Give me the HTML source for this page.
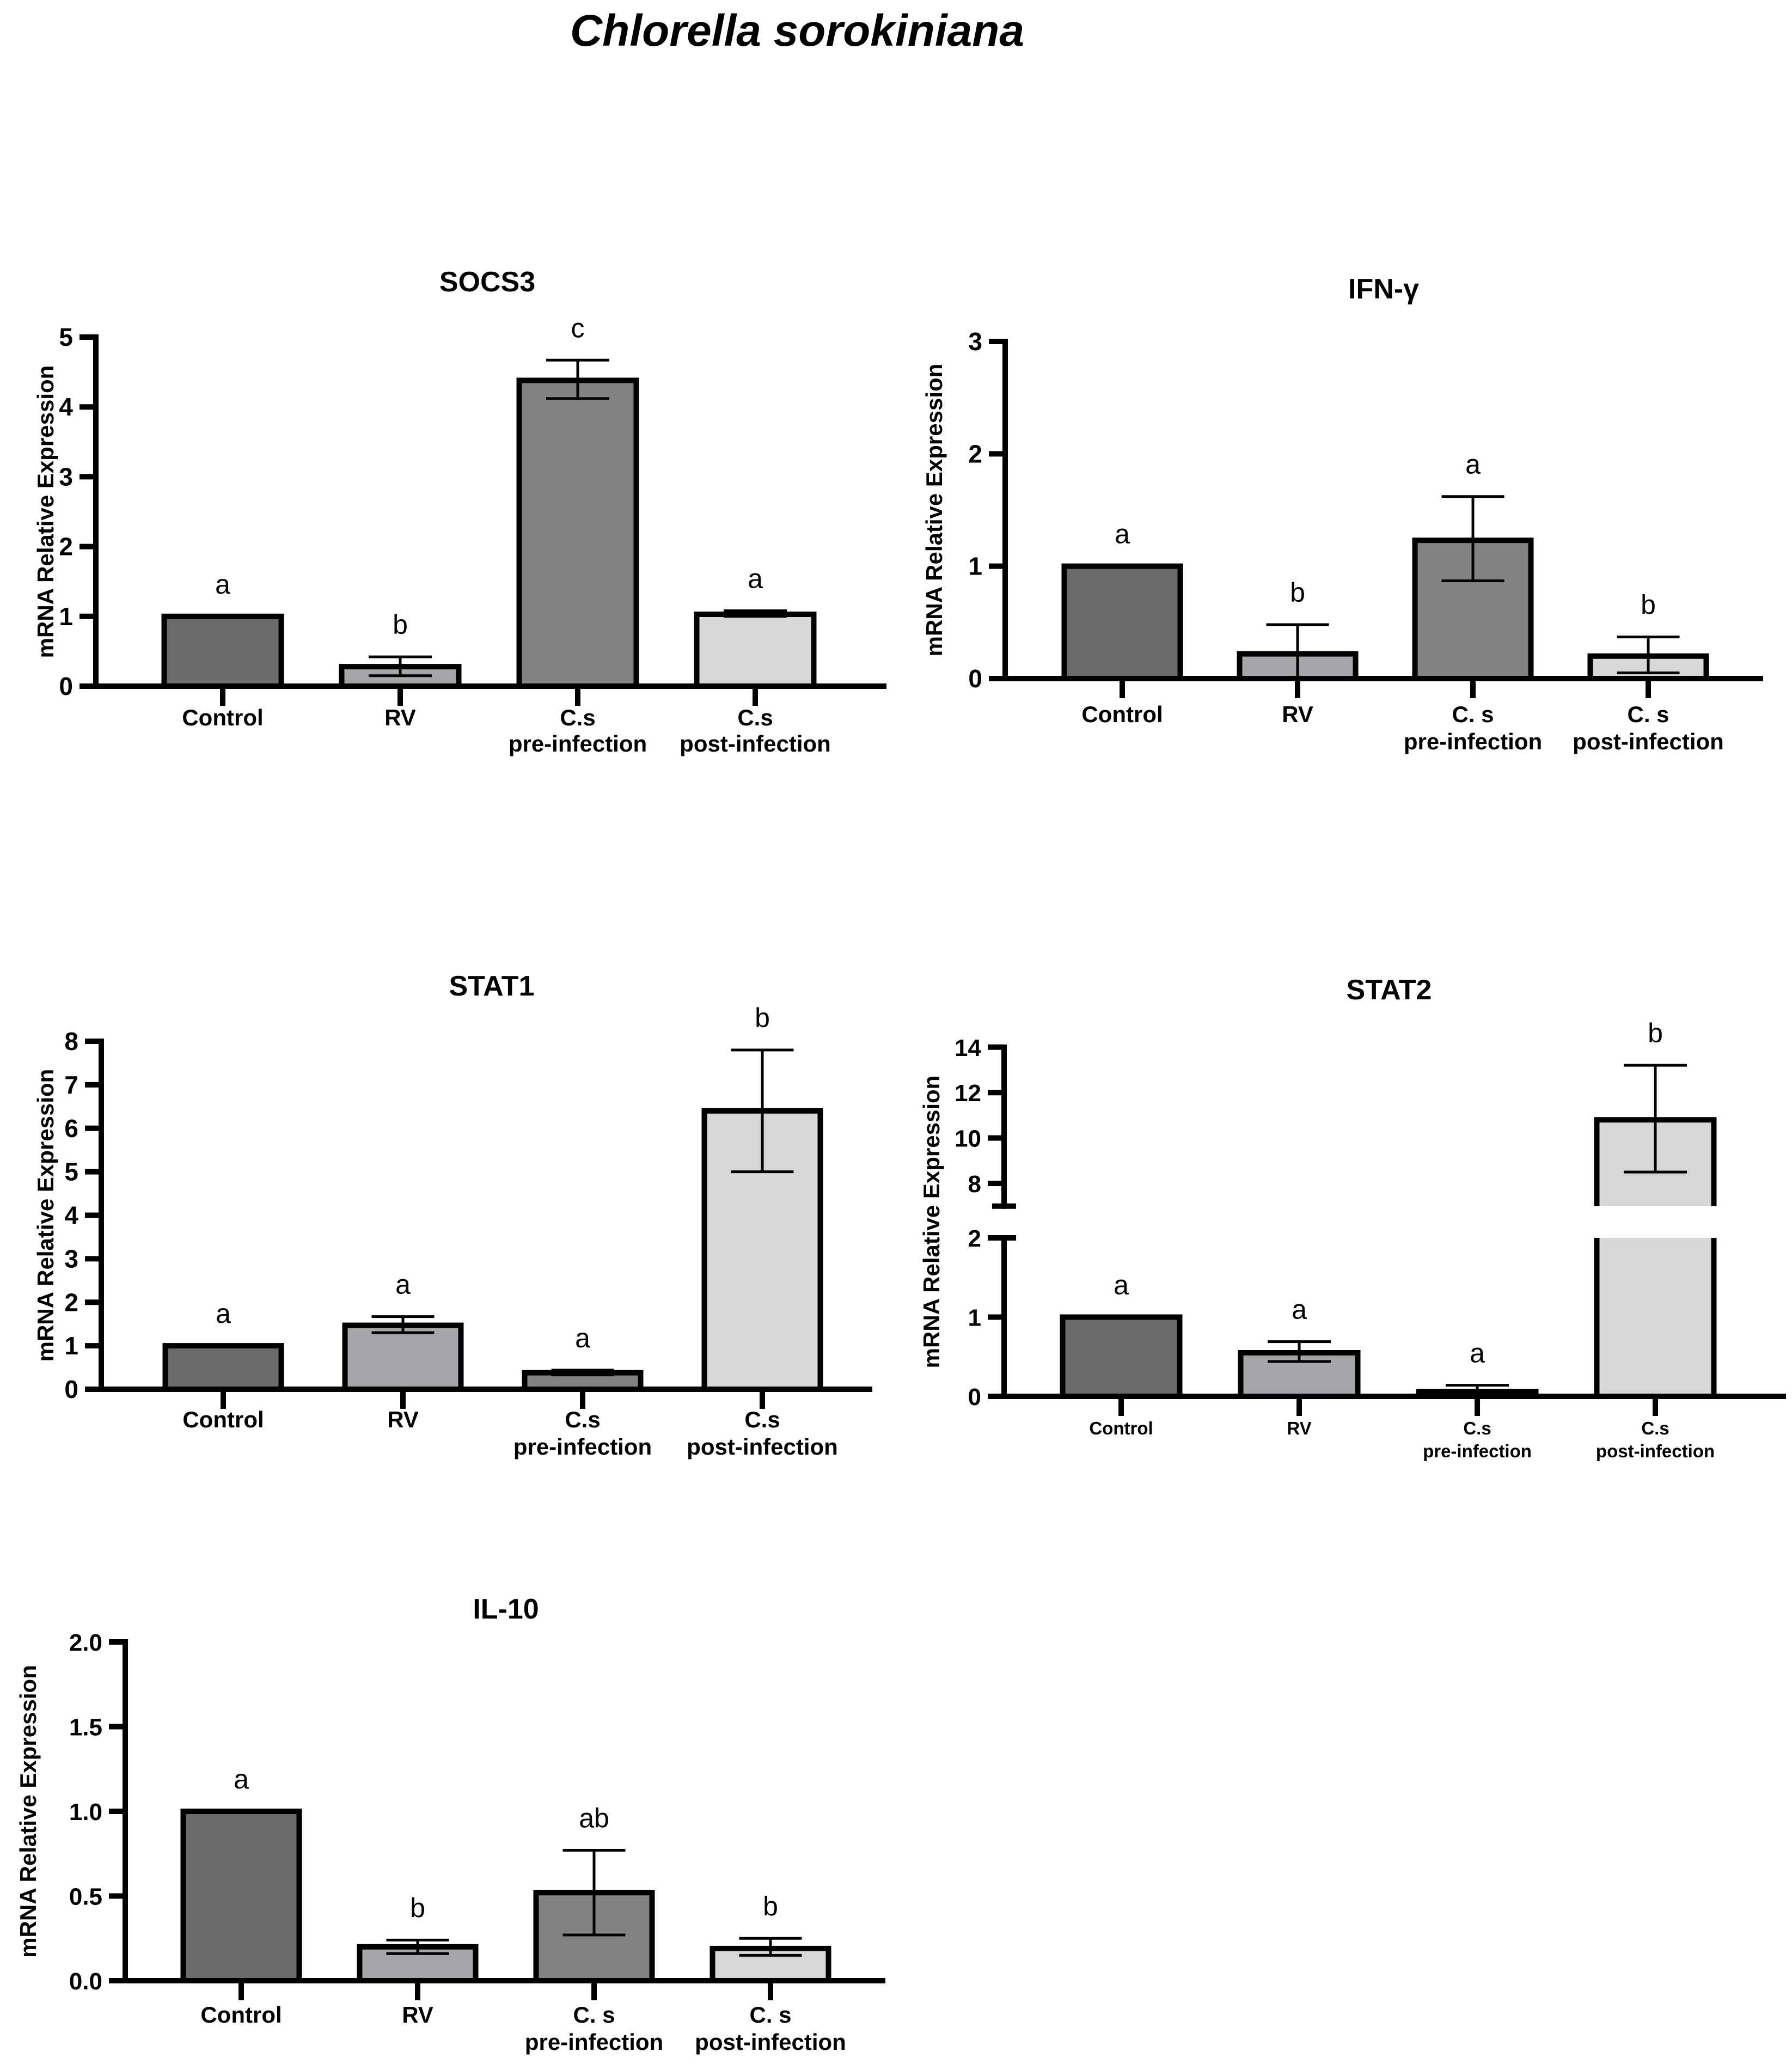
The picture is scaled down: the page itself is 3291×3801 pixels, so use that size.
<!DOCTYPE html>
<html><head><meta charset="utf-8"><style>
html,body{margin:0;padding:0;background:#fff}
svg{display:block}
text{font-family:"Liberation Sans",Arial,sans-serif}
</style></head><body>
<svg id="fig" xmlns="http://www.w3.org/2000/svg" width="3291" height="3801" viewBox="0 0 3291 3801">
<rect width="3291" height="3801" fill="#fff"/>
<text x="1464" y="84" text-anchor="middle" font-size="82" font-weight="bold" font-style="italic">Chlorella sorokiniana</text>
</svg>
<script>
// ---- data ----
const socs3Cats = ["Control","RV","C.s|pre-infection","C.s|post-infection"];
const socs3Values = [1, 0.28, 4.38, 1.03];
const socs3Hi = [1, 0.42, 4.67, 1.08];
const socs3Lo = [1, 0.15, 4.12, 1.0];
const socs3Letters = ["a","b","c","a"];
const socs3Ticks = [0,1,2,3,4,5];
const socs3TickLabels = ["0","1","2","3","4","5"];

const ifnCats = ["Control","RV","C. s|pre-infection","C. s|post-infection"];
const ifnValues = [1, 0.22, 1.23, 0.2];
const ifnHi = [1, 0.48, 1.62, 0.37];
const ifnLo = [1, 0, 0.87, 0.05];
const ifnLetters = ["a","b","a","b"];
const ifnTicks = [0,1,2,3];
const ifnTickLabels = ["0","1","2","3"];

const stat1Cats = ["Control","RV","C.s|pre-infection","C.s|post-infection"];
const stat1Values = [1, 1.47, 0.38, 6.4];
const stat1Hi = [1, 1.67, 0.44, 7.8];
const stat1Lo = [1, 1.3, 0.33, 5.0];
const stat1Letters = ["a","a","a","b"];
const stat1Ticks = [0,1,2,3,4,5,6,7,8];
const stat1TickLabels = ["0","1","2","3","4","5","6","7","8"];

const stat2Cats = ["Control","RV","C.s|pre-infection","C.s|post-infection"];
const stat2Values = [1, 0.55, 0.06, 10.8];
const stat2Hi = [1, 0.69, 0.14, 13.2];
const stat2Lo = [1, 0.44, 0.02, 8.5];
const stat2Letters = ["a","a","a","b"];
const stat2Ticks = [0,1,2,8,10,12,14];
const stat2TickLabels = ["0","1","2","8","10","12","14"];

const il10Cats = ["Control","RV","C. s|pre-infection","C. s|post-infection"];
const il10Values = [1, 0.2, 0.52, 0.19];
const il10Hi = [1, 0.24, 0.77, 0.25];
const il10Lo = [1, 0.16, 0.27, 0.15];
const il10Letters = ["a","b","ab","b"];
const il10Ticks = [0,0.5,1,1.5,2];
const il10TickLabels = ["0.0","0.5","1.0","1.5","2.0"];

const barColors = ["#6b6b6b","#a6a5a9","#828282","#d7d7d7"];

// ---- rendering ----
const NS = "http://www.w3.org/2000/svg";
const svg = document.getElementById("fig");
function mk(tag, attrs, parent){
  const e = document.createElementNS(NS, tag);
  for (const k in attrs) e.setAttribute(k, attrs[k]);
  (parent||svg).appendChild(e);
  return e;
}

function drawChart(L, cats, values, hi, lo, letters, ticks, tickLabels, title, name){
  const g = mk("g", {});
  
  
  const y = L.y;
  const xc = i => L.x0 + L.pad + i * L.step;
  const t = mk("text", {x:L.titleX, y:L.titleY, "text-anchor":"middle", "font-size":52, "font-weight":"bold"}, g);
  t.textContent = title;
  
  
  const yt = mk("text", {transform:`translate(${L.ytx},${(L.ytop+L.yzero)/2}) rotate(-90)`, "text-anchor":"middle", "font-size":42, "font-weight":"bold"}, g);
  yt.textContent = "mRNA Relative Expression";
  
  
  values.forEach((v, i) => {
    const cx = xc(i), w = L.bw;
    if (L.broken && v > L.brkLo) {
      const r1 = mk("rect", {x:cx-w/2, y:y(L.brkLo), width:w, height:y(0)-y(L.brkLo), fill:barColors[i]}, g);
      
      
      mk("path", {d:`M${cx-w/2},${y(0)} V${y(L.brkLo)} M${cx+w/2},${y(L.brkLo)} V${y(0)}`, fill:"none", stroke:"#000","stroke-width":10}, g);
      const r2 = mk("rect", {x:cx-w/2, y:y(v), width:w, height:y(L.brkHi)-y(v), fill:barColors[i]}, g);
      
      
      mk("path", {d:`M${cx-w/2},${y(L.brkHi)} V${y(v)} H${cx+w/2} V${y(L.brkHi)}`, fill:"none", stroke:"#000","stroke-width":10}, g);
    } else {
      const r = mk("rect", {x:cx-w/2, y:y(v), width:w, height:y(0)-y(v), fill:barColors[i], stroke:"#000","stroke-width":10}, g);
      
      
    }
    if (hi[i] !== v || lo[i] !== v) {
      const cw = L.bw * 0.27;
      const eb = mk("path", {d:`M${cx},${y(lo[i])} V${y(hi[i])} M${cx-cw},${y(hi[i])} H${cx+cw} M${cx-cw},${y(lo[i])} H${cx+cw}`, stroke:"#000","stroke-width":5, fill:"none"}, g);
      
      
    }
    const top = Math.min(y(v), y(hi[i]));
    const lt = mk("text", {x:cx, y:top - 42, "text-anchor":"middle", "font-size":50}, g);
    lt.textContent = letters[i];
    
    
    mk("line", {x1:cx, x2:cx, y1:L.yzero, y2:L.yzero+36, stroke:"#000","stroke-width":10}, g);
    const parts = cats[i].split("|");
    parts.forEach((p, k) => {
      const xl = mk("text", {x:cx, y:L.yzero + L.lab1 + k*L.labGap, "text-anchor":"middle", "font-size":L.labFs, "font-weight":"bold"}, g);
      xl.textContent = p;
      
      
    });
  });
  if (L.broken) {
    mk("line", {x1:L.x0, x2:L.x0, y1:L.yzero+5, y2:y(2)-5, stroke:"#000","stroke-width":10}, g);
    mk("line", {x1:L.x0, x2:L.x0, y1:y(L.brkHi)+5, y2:L.ytop-5, stroke:"#000","stroke-width":10}, g);
    mk("line", {x1:L.x0-22, x2:L.x0+22, y1:y(2), y2:y(2), stroke:"#000","stroke-width":10}, g);
    mk("line", {x1:L.x0-22, x2:L.x0+22, y1:y(L.brkHi), y2:y(L.brkHi), stroke:"#000","stroke-width":10}, g);
  } else {
    mk("line", {x1:L.x0, x2:L.x0, y1:L.yzero+5, y2:L.ytop-5, stroke:"#000","stroke-width":10}, g);
  }
  const xa = mk("line", {x1:L.x0-30, x2:L.x1, y1:L.yzero, y2:L.yzero, stroke:"#000","stroke-width":10}, g);
  
  
  ticks.forEach((tv, k) => {
    mk("line", {x1:L.x0-30, x2:L.x0, y1:y(tv), y2:y(tv), stroke:"#000","stroke-width":10}, g);
    const tl = mk("text", {x:L.x0-42, y:y(tv)+16, "text-anchor":"end", "font-size":L.tickFs, "font-weight":"bold"}, g);
    tl.textContent = tickLabels[k];
    
    
  });
}

function lin(yzero, ytop, vmax){ return v => yzero - (yzero - ytop) * v / vmax; }

drawChart({x0:176, x1:1628, yzero:1260, ytop:619, y:lin(1260,619,5), pad:233, step:326, bw:215,
  titleX:895, titleY:535, ytx:98, lab1:72, labGap:48, labFs:42, tickFs:46},
  socs3Cats, socs3Values, socs3Hi, socs3Lo, socs3Letters, socs3Ticks, socs3TickLabels, "SOCS3", "socs3");

drawChart({x0:1846, x1:3238, yzero:1246, ytop:627, y:lin(1246,627,3), pad:215, step:322, bw:213,
  titleX:2541, titleY:548, ytx:1730, lab1:80, labGap:50, labFs:42, tickFs:46},
  ifnCats, ifnValues, ifnHi, ifnLo, ifnLetters, ifnTicks, ifnTickLabels, "IFN-γ", "ifn-gamma");

drawChart({x0:186, x1:1602, yzero:2551, ytop:1912, y:lin(2551,1912,8), pad:224, step:330, bw:213,
  titleX:903, titleY:1828, ytx:98, lab1:70, labGap:50, labFs:42, tickFs:46},
  stat1Cats, stat1Values, stat1Hi, stat1Lo, stat1Letters, stat1Ticks, stat1TickLabels, "STAT1", "stat1");

function yStat2(v){
  if (v <= 2) return 2564 - 145.5 * v;
  return 2173 - (v - 8) * 41.7;
}
drawChart({x0:1844, x1:3280, yzero:2564, ytop:1923, y:yStat2, pad:215, step:327, bw:215, broken:true, brkLo:2, brkHi:7,
  titleX:2551, titleY:1835, ytx:1725, lab1:70, labGap:42, labFs:33, tickFs:44},
  stat2Cats, stat2Values, stat2Hi, stat2Lo, stat2Letters, stat2Ticks, stat2TickLabels, "STAT2", "stat2");

drawChart({x0:230, x1:1626, yzero:3637, ytop:3015, y:lin(3637,3015,2), pad:213, step:324, bw:213,
  titleX:929, titleY:2972, ytx:66, lab1:77, labGap:50, labFs:42, tickFs:44},
  il10Cats, il10Values, il10Hi, il10Lo, il10Letters, il10Ticks, il10TickLabels, "IL-10", "il10");
</script>
</body></html>
